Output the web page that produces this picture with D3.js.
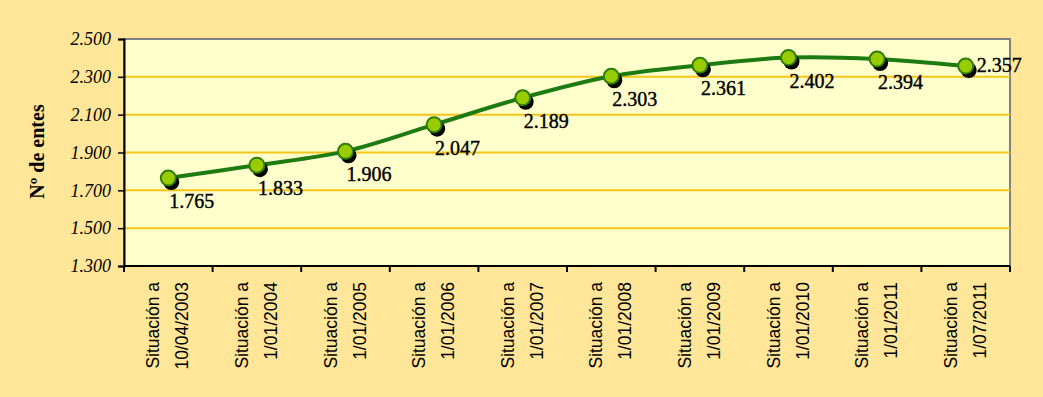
<!DOCTYPE html>
<html>
<head>
<meta charset="utf-8">
<script src="https://cdn.jsdelivr.net/npm/d3@7"></script>
<style>
  html, body { margin: 0; padding: 0; background: #FFE699; }
  svg { display: block; }
</style>
</head>
<body>
<div id="chart"></div>
<script>
// categories: two-line labels
const fechas = ['10/04/2003', '1/01/2004', '1/01/2005', '1/01/2006', '1/01/2007',
                '1/01/2008', '1/01/2009', '1/01/2010', '1/01/2011', '1/07/2011'];
const entes = [1765, 1833, 1906, 2047, 2189, 2303, 2361, 2402, 2394, 2357];
const yTicks = [1300, 1500, 1700, 1900, 2100, 2300, 2500];

const width = 1043, height = 397;
const margin = { top: 39, right: 33, bottom: 131, left: 124 };
const innerW = width - margin.left - margin.right;
const innerH = height - margin.top - margin.bottom;

const fmt = v => d3.format(',.3f')(v / 1000).replace(',', '');
const serif = '"Liberation Serif", "Times New Roman", serif';

const svg = d3.select('#chart').append('svg')
  .attr('width', width)
  .attr('height', height);

svg.append('rect')
  .attr('width', width).attr('height', height)
  .attr('fill', '#FFE699');

const g = svg.append('g')
  .attr('transform', `translate(${margin.left},${margin.top})`);

const x = d3.scaleBand().domain(fechas).range([0, innerW]);
const y = d3.scaleLinear().domain([1300, 2500]).range([innerH, 0]);

// plot area
g.append('rect')
  .attr('width', innerW).attr('height', innerH)
  .attr('fill', '#FFFFCC')
  .attr('stroke', '#808080')
  .attr('stroke-width', 2);

// gridlines
g.append('g')
  .selectAll('line')
  .data(yTicks.filter(t => t > 1300 && t < 2500))
  .enter().append('line')
  .attr('x1', 0).attr('x2', innerW)
  .attr('y1', d => y(d)).attr('y2', d => y(d))
  .attr('stroke', '#F5C518')
  .attr('stroke-width', 2);

// y axis
const yAxis = g.append('g')
  .call(d3.axisLeft(y).tickValues(yTicks).tickSize(6).tickFormat(fmt));
yAxis.select('.domain').attr('stroke', '#000').attr('stroke-width', 2);
yAxis.selectAll('.tick line').attr('stroke', '#000').attr('stroke-width', 1.5);
yAxis.selectAll('.tick text')
  .attr('x', -13)
  .attr('font-family', serif)
  .attr('font-style', 'italic')
  .attr('font-size', '18px')
  .attr('fill', '#000');

// x axis (ticks between categories)
const xAxis = g.append('g')
  .attr('transform', `translate(0,${innerH})`);
xAxis.append('line')
  .attr('x1', 0).attr('x2', innerW)
  .attr('stroke', '#000').attr('stroke-width', 2);
xAxis.selectAll('line.tk')
  .data(d3.range(fechas.length + 1))
  .enter().append('line')
  .attr('class', 'tk')
  .attr('x1', i => i * x.bandwidth()).attr('x2', i => i * x.bandwidth())
  .attr('y1', 0).attr('y2', 6)
  .attr('stroke', '#000').attr('stroke-width', 2);

const xl = xAxis.selectAll('g.lbl')
  .data(fechas)
  .enter().append('g')
  .attr('class', 'lbl')
  .attr('transform', d => `translate(${x(d) + x.bandwidth() / 2},16) rotate(-90)`);
xl.append('text')
  .attr('text-anchor', 'end')
  .attr('y', -9)
  .attr('font-family', '"Liberation Sans", Arial, sans-serif')
  .attr('font-size', '17.5px')
  .attr('fill', '#000')
  .text('Situación a');
xl.append('text')
  .attr('text-anchor', 'end')
  .attr('y', 20)
  .attr('font-family', '"Liberation Sans", Arial, sans-serif')
  .attr('font-size', '17.5px')
  .attr('fill', '#000')
  .text(d => d);

// y title
svg.append('text')
  .attr('transform', `translate(44,${margin.top + innerH / 2 - 1}) rotate(-90)`)
  .attr('text-anchor', 'middle')
  .attr('font-family', serif)
  .attr('font-weight', 'bold')
  .attr('font-size', '20px')
  .attr('fill', '#000')
  .text('Nº de entes');

// line
const pts = fechas.map((f, i) => [x(f) + x.bandwidth() / 2, y(entes[i])]);
const line = d3.line().curve(d3.curveCatmullRom.alpha(0.5));

g.append('path')
  .attr('d', line(pts))
  .attr('fill', 'none')
  .attr('stroke', '#1E7B12')
  .attr('stroke-width', 4);

// markers with shadow
g.append('g').selectAll('circle')
  .data(pts)
  .enter().append('circle')
  .attr('cx', d => d[0] + 3).attr('cy', d => d[1] + 4)
  .attr('r', 8)
  .attr('fill', '#000');
g.append('g').selectAll('circle')
  .data(pts)
  .enter().append('circle')
  .attr('cx', d => d[0]).attr('cy', d => d[1])
  .attr('r', 7.5)
  .attr('fill', '#99CC00')
  .attr('stroke', '#2E7D0A')
  .attr('stroke-width', 2);

// value labels
g.append('g').selectAll('text')
  .data(pts)
  .enter().append('text')
  .attr('x', (d, i) => i === pts.length - 1 ? d[0] + 11 : d[0] + 1)
  .attr('y', (d, i) => i === pts.length - 1 ? d[1] + 6 : d[1] + 30)
  .attr('font-family', serif)
  .attr('font-size', '20px')
  .attr('fill', '#000')
  .attr('stroke', '#000')
  .attr('stroke-width', 0.4)
  .text((d, i) => fmt(entes[i]));
</script>
</body>
</html>
